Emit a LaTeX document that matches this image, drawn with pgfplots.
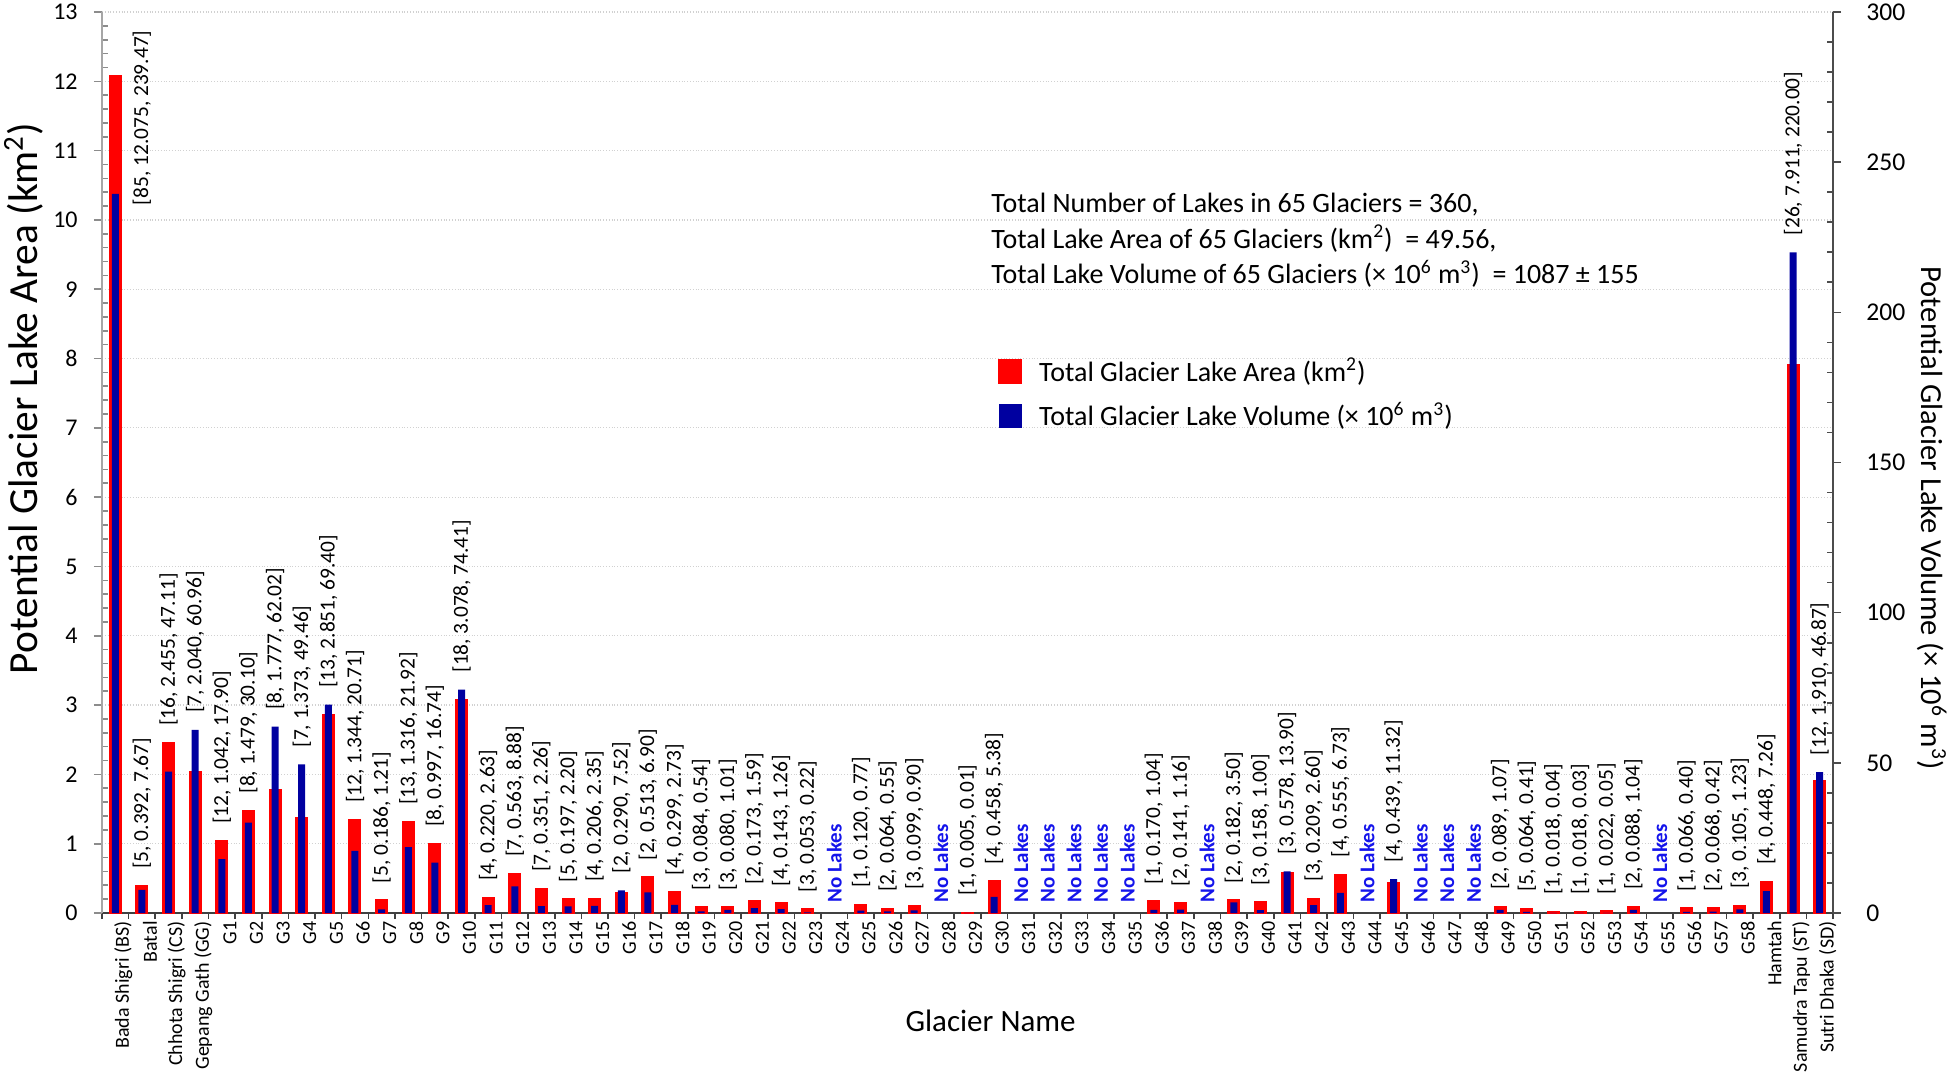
\documentclass[border=0pt]{standalone}
\usepackage{fontspec}
\setmainfont{Carlito}
\usepackage{pgfplots}
\usepackage{pgfplotstable}
\pgfplotsset{compat=1.18}
\definecolor{areared}{RGB}{255,0,0}
\definecolor{volblue}{RGB}{0,0,160}
\definecolor{nolake}{RGB}{20,20,235}

\pgfplotstableread{
idx n area vol
0 85 12.075 239.47
1 5 0.392 7.67
2 16 2.455 47.11
3 7 2.040 60.96
4 12 1.042 17.90
5 8 1.479 30.10
6 8 1.777 62.02
7 7 1.373 49.46
8 13 2.851 69.40
9 12 1.344 20.71
10 5 0.186 1.21
11 13 1.316 21.92
12 8 0.997 16.74
13 18 3.078 74.41
14 4 0.220 2.63
15 7 0.563 8.88
16 7 0.351 2.26
17 5 0.197 2.20
18 4 0.206 2.35
19 2 0.290 7.52
20 2 0.513 6.90
21 4 0.299 2.73
22 3 0.084 0.54
23 3 0.080 1.01
24 2 0.173 1.59
25 4 0.143 1.26
26 3 0.053 0.22
27 0 0 0
28 1 0.120 0.77
29 2 0.064 0.55
30 3 0.099 0.90
31 0 0 0
32 1 0.005 0.01
33 4 0.458 5.38
34 0 0 0
35 0 0 0
36 0 0 0
37 0 0 0
38 0 0 0
39 1 0.170 1.04
40 2 0.141 1.16
41 0 0 0
42 2 0.182 3.50
43 3 0.158 1.00
44 3 0.578 13.90
45 3 0.209 2.60
46 4 0.555 6.73
47 0 0 0
48 4 0.439 11.32
49 0 0 0
50 0 0 0
51 0 0 0
52 2 0.089 1.07
53 5 0.064 0.41
54 1 0.018 0.04
55 1 0.018 0.03
56 1 0.022 0.05
57 2 0.088 1.04
58 0 0 0
59 1 0.066 0.40
60 2 0.068 0.42
61 3 0.105 1.23
62 4 0.448 7.26
63 26 7.911 220.00
64 12 1.910 46.87
}\glaciers

\tikzset{lbl/.style={font=\fontsize{10.7}{12}\selectfont, inner sep=0pt, outer sep=0pt, outer xsep=8.5pt, rotate=90, anchor=west}}

\begin{document}
\begin{tikzpicture}
\begin{axis}[
  at={(0,0)}, anchor=south west,
  scale only axis, width=865.5pt, height=450.5pt,
  xmin=-0.5, xmax=64.5, ymin=0, ymax=13, clip=false,
  axis x line=bottom, axis y line=left, axis line style={-},
  x axis line style={black!75, line width=0.8pt},
  y axis line style={black!35, line width=0.8pt},
  xtick={0,...,64},
  xticklabels={Bada Shigri (BS), Batal, Chhota Shigri (CS), Gepang Gath (GG),
    G1,G2,G3,G4,G5,G6,G7,G8,G9,G10,G11,G12,G13,G14,G15,G16,G17,G18,G19,G20,
    G21,G22,G23,G24,G25,G26,G27,G28,G29,G30,G31,G32,G33,G34,G35,G36,G37,G38,G39,G40,
    G41,G42,G43,G44,G45,G46,G47,G48,G49,G50,G51,G52,G53,G54,G55,G56,G57,G58,
    Hamtah, Samudra Tapu (ST), Sutri Dhaka (SD)},
  major x tick style={draw=none},
  minor xtick={-0.5,0.5,...,64.5},
  minor x tick style={black!75, line width=0.8pt},
  ytick={0,1,...,13}, minor y tick num=4,
  y tick style={black!45, line width=0.8pt},
  minor y tick style={xshift=3pt},
  tick align=outside, major tick length=4pt, minor tick length=3pt,
  ymajorgrids, grid style={densely dotted, black!18, line width=0.6pt},
  /pgf/number format/assume math mode=true,
  /pgf/number format/1000 sep={},
  yticklabel style={font=\fontsize{12}{14}\selectfont, inner sep=0pt, xshift=-8pt},
  xticklabel style={rotate=90, anchor=east, inner sep=0pt, font=\fontsize{10}{12}\selectfont, yshift=-4pt},
  ylabel={Potential Glacier Lake Area (km\textsuperscript{2})},
  ylabel style={at={(axis description cs:-0.0451,0.571)}, anchor=center, font=\fontsize{20.7}{24}\selectfont},
  xlabel={Glacier Name},
  xlabel style={at={(axis description cs:0.5133,-0.12)}, anchor=center, font=\fontsize{15.5}{18}\selectfont},
]
\addplot[ybar, bar width=5.5pt, fill=areared, draw=areared, line width=1pt,
  y filter/.expression={y<=0 ? nan : y}]
  table[x=idx, y=area] {\glaciers};
\addplot[draw=none, mark=none,
  visualization depends on={\thisrow{n}\as\Nn},
  visualization depends on={\thisrow{area}\as\Ar},
  visualization depends on={\thisrow{vol}\as\Vo},
  nodes near coords={[\pgfmathprintnumber[fixed,precision=0]{\Nn}, \pgfmathprintnumber[fixed,fixed zerofill,precision=3]{\Ar}, \pgfmathprintnumber[fixed,fixed zerofill,precision=2]{\Vo}]},
  nodes near coords style={lbl},
  restrict expr to domain={\thisrow{n}}{1:84}]
  table[x=idx, y expr={max(\thisrow{area},\thisrow{vol}*13/300)}] {\glaciers};
\addplot[draw=none, mark=none,
  nodes near coords={\color{nolake}\bfseries No Lakes},
  nodes near coords style={lbl, outer xsep=5.5pt, font=\fontsize{10.5}{12}\selectfont}]
  coordinates {(27,0) (31,0) (34,0) (35,0) (36,0) (37,0) (38,0) (41,0) (47,0) (49,0) (50,0) (51,0) (58,0)};
\addplot[draw=none, mark=none,
  nodes near coords={[85, 12.075, 239.47]},
  nodes near coords style={lbl}]
  coordinates {(1,9.97)};
\node[anchor=north west, align=left, inner sep=0pt, font=\fontsize{14}{17.75}\selectfont]
  at (axis description cs:0.5136,0.799)
  {Total Number of Lakes in 65 Glaciers = 360,\\
   Total Lake Area of 65 Glaciers (km\textsuperscript{2})\ \ = 49.56,\\
   Total Lake Volume of 65 Glaciers (× 10\textsuperscript{6} m\textsuperscript{3})\ \ = 1087 ± 155};
\end{axis}
\begin{axis}[
  at={(0,0)}, anchor=south west,
  scale only axis, width=865.5pt, height=450.5pt,
  xmin=-0.5, xmax=64.5, ymin=0, ymax=300,
  axis x line=none, axis y line=right, axis line style={-},
  xtick=\empty,
  y axis line style={black!70, line width=0.8pt},
  ytick={0,50,...,300}, minor y tick num=4,
  y tick style={black!70, line width=0.8pt},
  minor y tick style={xshift=-3pt},
  tick align=outside, major tick length=4pt, minor tick length=3pt,
  /pgf/number format/assume math mode=true,
  yticklabel style={font=\fontsize{12.8}{14}\selectfont, inner sep=0pt, xshift=12.5pt},
  ylabel={Potential Glacier Lake Volume (× 10\textsuperscript{6} m\textsuperscript{3})},
  ylabel style={at={(axis description cs:1.0572,0.4384)}, anchor=center, rotate=180, font=\fontsize{15.3}{18}\selectfont},
  legend style={at={(axis description cs:0.5176,0.6163)}, anchor=north west, draw=none, fill=none,
    inner sep=0pt, row sep=9pt, column sep=8.5pt, font=\fontsize{14}{16}\selectfont,
    nodes={inner sep=0pt}},
  legend cell align=left,
]
\addlegendimage{legend image code/.code={\fill[areared] (0pt,-6pt) rectangle (11.5pt,6pt);}}
\addlegendentry{Total Glacier Lake Area (km\textsuperscript{2})}
\addplot[ybar, bar width=3.5pt, fill=volblue, draw=none,
  y filter/.expression={y<=0 ? nan : y},
  legend image code/.code={\fill[volblue] (0pt,-6pt) rectangle (11.5pt,6pt);}]
  table[x=idx, y=vol] {\glaciers};
\addlegendentry{Total Glacier Lake Volume (× 10\textsuperscript{6} m\textsuperscript{3})}
\end{axis}
\pgfresetboundingbox
\path[use as bounding box] (-51pt,-82.5pt) rectangle (924pt,456.5pt);
\end{tikzpicture}
\end{document}
